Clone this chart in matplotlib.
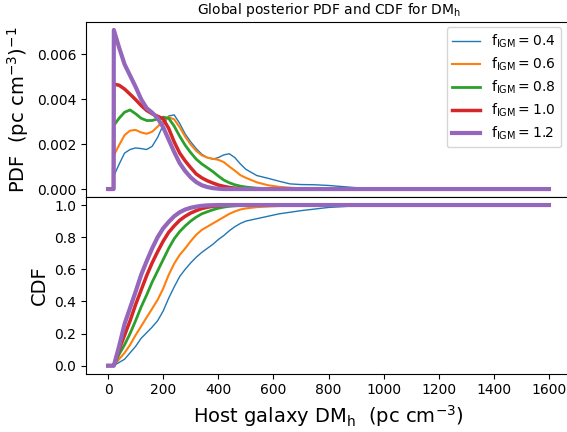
import numpy as np
import matplotlib
matplotlib.use("Agg")
import matplotlib.pyplot as plt

# Host galaxy DM grid (pc cm^-3)
dm = [0, 20, 21, 40, 60, 80, 100, 120, 140, 160, 180, 200, 220, 240, 260, 280,
      300, 320, 340, 360, 380, 400, 420, 440, 460, 480, 500, 540, 580, 620, 660,
      700, 750, 800, 850, 900, 950, 1000, 1600]

f_igm = [0.4, 0.6, 0.8, 1.0, 1.2]

# PDF values, in units of 1e-3 (pc cm^-3)^-1
pdf_04 = [0, 0, 0.59, 1.1, 1.6, 1.76, 1.83, 1.8, 1.76, 1.9, 2.3, 2.85, 3.25, 3.3,
          2.92, 2.45, 2.1, 1.8, 1.55, 1.4, 1.33, 1.4, 1.52, 1.57, 1.4, 1.12, 0.88,
          0.6, 0.48, 0.35, 0.23, 0.2, 0.19, 0.16, 0.11, 0.06, 0.01, 0, 0]
pdf_06 = [0, 0, 1.5, 1.95, 2.4, 2.6, 2.63, 2.52, 2.46, 2.55, 2.78, 3.02, 3.2, 3.1,
          2.75, 2.33, 1.98, 1.7, 1.5, 1.4, 1.35, 1.3, 1.2, 1.0, 0.82, 0.62, 0.5,
          0.3, 0.17, 0.1, 0.06, 0.03, 0.01, 0, 0, 0, 0, 0, 0]
pdf_08 = [0, 0, 2.83, 3.15, 3.42, 3.52, 3.35, 3.15, 3.05, 3.05, 3.12, 3.2, 3.15,
          2.8, 2.35, 1.95, 1.62, 1.33, 1.12, 0.95, 0.78, 0.58, 0.4, 0.28, 0.19,
          0.13, 0.09, 0.04, 0.015, 0, 0, 0, 0, 0, 0, 0, 0, 0, 0]
pdf_10 = [0, 0, 4.67, 4.62, 4.45, 4.22, 3.98, 3.72, 3.5, 3.35, 3.24, 3.12, 2.7,
          2.1, 1.6, 1.25, 0.95, 0.67, 0.5, 0.37, 0.27, 0.18, 0.12, 0.07, 0.04,
          0.02, 0.01, 0, 0, 0, 0, 0, 0, 0, 0, 0, 0, 0, 0]
pdf_12 = [0, 0, 7.08, 6.3, 5.55, 5.05, 4.55, 4.0, 3.6, 3.4, 3.15, 2.75, 2.2, 1.65,
          1.15, 0.8, 0.52, 0.31, 0.17, 0.09, 0.04, 0.015, 0, 0, 0, 0, 0, 0, 0, 0,
          0, 0, 0, 0, 0, 0, 0, 0, 0]

# CDF values
cdf_04 = [0, 0, 0, 0.02, 0.04, 0.08, 0.12, 0.17, 0.205, 0.24, 0.28, 0.34, 0.42,
          0.49, 0.555, 0.6, 0.64, 0.675, 0.705, 0.73, 0.755, 0.785, 0.81, 0.84,
          0.865, 0.885, 0.9, 0.915, 0.93, 0.945, 0.955, 0.965, 0.975, 0.985, 0.99,
          0.995, 0.998, 1.0, 1.0]
cdf_06 = [0, 0, 0, 0.04, 0.08, 0.13, 0.19, 0.245, 0.3, 0.355, 0.41, 0.48, 0.565,
          0.635, 0.69, 0.73, 0.775, 0.815, 0.845, 0.865, 0.885, 0.905, 0.925,
          0.945, 0.96, 0.972, 0.979, 0.987, 0.991, 0.994, 0.996, 0.998, 0.999,
          1.0, 1.0, 1.0, 1.0, 1.0, 1.0]
cdf_08 = [0, 0, 0, 0.07, 0.13, 0.2, 0.28, 0.365, 0.44, 0.52, 0.59, 0.66, 0.73,
          0.79, 0.835, 0.87, 0.9, 0.925, 0.945, 0.958, 0.97, 0.98, 0.987, 0.992,
          0.995, 0.997, 0.998, 0.999, 1.0, 1.0, 1.0, 1.0, 1.0, 1.0, 1.0, 1.0, 1.0,
          1.0, 1.0]
cdf_10 = [0, 0, 0, 0.1, 0.19, 0.28, 0.38, 0.47, 0.56, 0.64, 0.71, 0.775, 0.83,
          0.87, 0.905, 0.93, 0.95, 0.965, 0.978, 0.986, 0.992, 0.995, 0.998, 0.999,
          1.0, 1.0, 1.0, 1.0, 1.0, 1.0, 1.0, 1.0, 1.0, 1.0, 1.0, 1.0, 1.0, 1.0, 1.0]
cdf_12 = [0, 0, 0, 0.12, 0.26, 0.36, 0.46, 0.565, 0.65, 0.73, 0.8, 0.855, 0.895,
          0.93, 0.955, 0.972, 0.983, 0.99, 0.995, 0.998, 0.999, 1.0, 1.0, 1.0, 1.0,
          1.0, 1.0, 1.0, 1.0, 1.0, 1.0, 1.0, 1.0, 1.0, 1.0, 1.0, 1.0, 1.0, 1.0]

pdfs = [pdf_04, pdf_06, pdf_08, pdf_10, pdf_12]
cdfs = [cdf_04, cdf_06, cdf_08, cdf_10, cdf_12]
widths = [1, 1.5, 2, 2.5, 3]

fig = plt.figure(figsize=(5.67, 4.32), dpi=100)
W, H = 567.0, 432.0
ax1 = fig.add_axes([86 / W, (H - 197) / H, 485 / W, 175 / H])
ax2 = fig.add_axes([86 / W, (H - 373.7) / H, 485 / W, 176.7 / H], sharex=ax1)

for f, p, c, lw in zip(f_igm, pdfs, cdfs, widths):
    lab = r"$\mathrm{f_{IGM} = %.1f}$" % f
    ax1.plot(dm, np.array(p) * 1e-3, lw=lw, label=lab)
    ax2.plot(dm, c, lw=lw)

ax1.tick_params(axis="x", bottom=False, labelbottom=False)
ax1.set_ylabel(r"PDF  (pc cm$^{-3}$)$^{-1}$", fontsize=14)
ax2.set_ylabel("CDF", fontsize=14)
ax2.set_xlabel(r"Host galaxy DM$_{\rm h}$  (pc cm$^{-3}$)", fontsize=14)
ax1.set_title(r"Global posterior PDF and CDF for DM$_{\rm h}$", fontsize=10)

ax1.legend(loc="upper right", bbox_to_anchor=(561 / W, (H - 27) / H),
           bbox_transform=fig.transFigure, borderaxespad=0, labelspacing=0.4)

fig.savefig("out.png", dpi=100)
